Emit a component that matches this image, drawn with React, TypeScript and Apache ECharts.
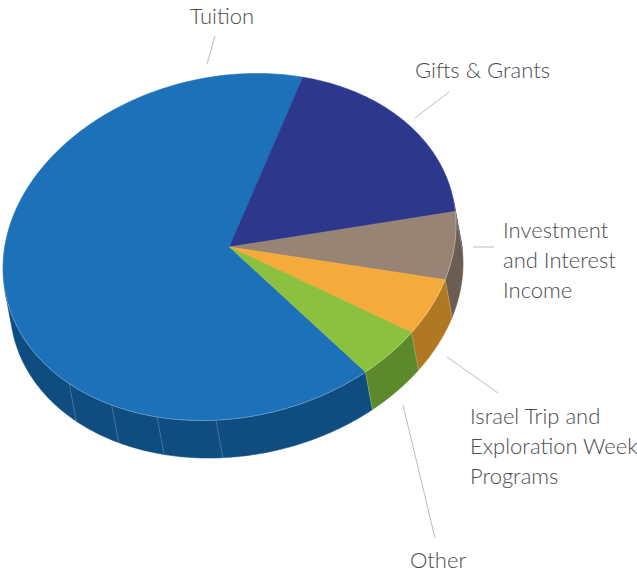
import React, { useEffect, useRef } from "react";
import * as echarts from "echarts";

// ---- data ----
const categories = [
  "Tuition",
  "Gifts & Grants",
  "Investment and Interest Income",
  "Israel Trip and Exploration Week Programs",
  "Other",
];
const values = [65.5, 18.4, 6.3, 5.2, 4.6];
const labelTexts = [
  "Tuition",
  "Gifts & Grants",
  "Investment\nand Interest\nIncome",
  "Israel Trip and\nExploration Week\nPrograms",
  "Other",
];

// ---- styles / layout ----
const topColors = ["#1c71b9", "#2d388d", "#978474", "#f4ab3b", "#8bc13f"];
const sideColors = ["#0f4c80", "#1f2763", "#6b5d51", "#b07822", "#5c8a2a"];
const CX = 229.5;
const CY = 247;
// projection of the unit circle onto the page (tilted ellipse)
const MXX = 226.2;
const MXY = -12.0;
const MYX = -12.0;
const MYY = 173.1;
const DX = 7;
const DY = 37.5;
const START_DEG = 50.09; // angle where the first slice starts, clockwise
const FACET_DEG = [90.4, 105.6, 118.3, 132.0];
const TEXT_COLOR = "#4d4d4d";
const LINE_COLOR = "#bdbdbd";
const FONT_SIZE = 22;
const LINE_HEIGHT = 30;

// label placement: [x, firstLineCenterY, align]
const labelPos: [number, number, string][] = [
  [222, 15, "center"],
  [415, 69, "left"],
  [503, 229, "left"],
  [470, 415, "left"],
  [410, 559, "left"],
];
// leader lines: [x1, y1, x2, y2]
const leaderLines: number[][] = [
  [215, 36, 207, 64],
  [449, 92, 415, 118],
  [473, 247, 494, 247],
  [447, 357, 498, 393],
  [403, 405, 435, 538],
];

const total = values.reduce((s, v) => s + v, 0);
const startAngles: number[] = [];
{
  let acc = START_DEG;
  values.forEach((v) => {
    startAngles.push(acc);
    acc += (v / total) * 360;
  });
}

const rad = (d: number) => (d * Math.PI) / 180;
const P = (deg: number) => {
  const c = Math.cos(rad(deg));
  const s = Math.sin(rad(deg));
  return [CX + MXX * c + MXY * s, CY + MYX * c + MYY * s];
};
const Pb = (deg: number) => {
  const p = P(deg);
  return [p[0] + DX, p[1] + DY];
};
// silhouette of the side wall: tangent parallel to the extrusion direction
const DET = MXX * MYY - MXY * MYX;
const invX = (MYY * DX - MXY * DY) / DET;
const invY = (-MYX * DX + MXX * DY) / DET;
const T0 = (Math.atan2(-invX, invY) * 180) / Math.PI;
const T1 = T0 + 180;

function visibleIntervals(a: number, b: number) {
  const out: number[][] = [];
  for (let k = -1; k <= 1; k++) {
    const lo = Math.max(a + 360 * k, T0);
    const hi = Math.min(b + 360 * k, T1);
    if (hi > lo) out.push([lo, hi]);
  }
  return out;
}
function inVisible(d: number) {
  for (let k = -1; k <= 1; k++) {
    const x = d + 360 * k;
    if (x > T0 + 0.5 && x < T1 - 0.5) return x;
  }
  return null;
}

function arcPoints(a: number, b: number, bottom: boolean) {
  const pts: number[][] = [];
  const f = bottom ? Pb : P;
  if (a <= b) {
    for (let t = a; t < b; t += 1) pts.push(f(t));
  } else {
    for (let t = a; t > b; t -= 1) pts.push(f(t));
  }
  pts.push(f(b));
  return pts;
}

export default function App() {
  const ref = useRef<HTMLDivElement>(null);
  useEffect(() => {
    if (!ref.current) return;
    const chart = echarts.init(ref.current, undefined, { renderer: "svg" });
    const data = values.map((v, i) => ({ name: categories[i], value: v }));

    const renderWall = (params: any, api: any) => {
      const i = params.dataIndex;
      const v = api.value(0);
      const a = startAngles[i];
      const b = a + (v / total) * 360;
      const children: any[] = [];
      visibleIntervals(a, b).forEach(([lo, hi]) => {
        const pts = arcPoints(lo, hi, false).concat(arcPoints(hi, lo, true));
        children.push({
          type: "polygon",
          shape: { points: pts },
          style: { fill: sideColors[i], stroke: sideColors[i], lineWidth: 0.6 },
        });
      });
      const lines: number[] = [];
      const s = inVisible(a);
      if (s !== null) lines.push(s);
      if (i === 0) FACET_DEG.forEach((d) => lines.push(d));
      lines.forEach((d) => {
        const p1 = P(d);
        const p2 = Pb(d);
        children.push({
          type: "line",
          shape: { x1: p1[0], y1: p1[1], x2: p2[0], y2: p2[1] },
          style: { stroke: "rgba(255,255,255,0.28)", lineWidth: 0.8 },
          z2: 5,
        });
      });
      return { type: "group", children };
    };

    const renderTop = (params: any, api: any) => {
      const i = params.dataIndex;
      const v = api.value(0);
      const a = startAngles[i];
      const b = a + (v / total) * 360;
      const pts = [[CX, CY]].concat(arcPoints(a, b, false));
      const children: any[] = [
        {
          type: "polygon",
          shape: { points: pts },
          style: { fill: topColors[i], stroke: topColors[i], lineWidth: 0.6 },
        },
      ];
      visibleIntervals(a, b).forEach(([lo, hi]) => {
        children.push({
          type: "polyline",
          shape: { points: arcPoints(lo, hi, false) },
          style: { stroke: "rgba(255,255,255,0.35)", lineWidth: 0.8, fill: null },
          z2: 5,
        });
      });
      return { type: "group", children };
    };

    const graphics: any[] = [];
    labelTexts.forEach((t, i) => {
      const [x, y, align] = labelPos[i];
      graphics.push({
        type: "text",
        x,
        y: y - LINE_HEIGHT / 2,
        style: {
          text: t,
          fill: TEXT_COLOR,
          fontSize: FONT_SIZE,
          fontFamily: "Lato",
          fontWeight: 300,
          lineHeight: LINE_HEIGHT,
          align,
          verticalAlign: "top",
        },
      });
      const l = leaderLines[i];
      graphics.push({
        type: "line",
        shape: { x1: l[0], y1: l[1], x2: l[2], y2: l[3] },
        style: { stroke: LINE_COLOR, lineWidth: 1 },
      });
    });

    chart.setOption({
      animation: false,
      backgroundColor: "#ffffff",
      series: [
        {
          type: "custom",
          name: "walls",
          coordinateSystem: "none",
          silent: true,
          z: 1,
          data,
          renderItem: renderWall,
        },
        {
          type: "custom",
          name: "tops",
          coordinateSystem: "none",
          silent: true,
          z: 2,
          data,
          renderItem: renderTop,
        },
      ],
      graphic: graphics,
    });
    return () => chart.dispose();
  }, []);
  return (
    <div
      ref={ref}
      style={{ position: "absolute", left: 0, top: 0, width: 637, height: 572 }}
    />
  );
}
